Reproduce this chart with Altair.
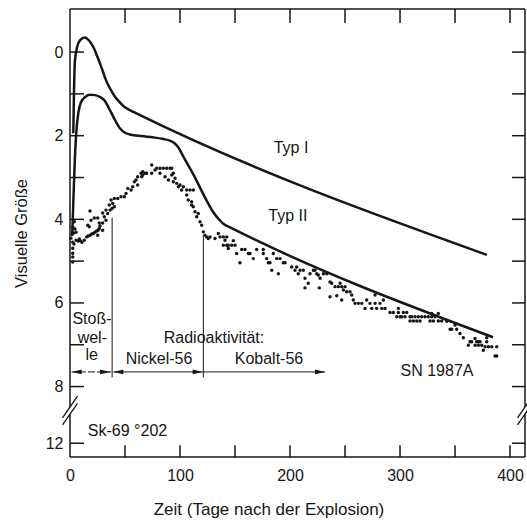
import altair as alt
import pandas as pd

FONT = "Liberation Sans"
INK = "#161616"

X_MAX = 413.6
Y_DOMAIN = [-1.03, 8.68, 11.66, 12.33]
Y_RANGE = [0, 406, 420, 448]

# ---- light curves (days after explosion, visual magnitude) ----
typ1_day = [3.0, 3.6, 4.5, 6.5, 9.0, 13.6, 17.5, 21.2, 25.0, 29.0, 33.3, 37.0, 40.9, 44.5, 48.5, 53.0, 57.6, 379.0]
typ1_mag = [1.94, 1.0, 0.2, -0.12, -0.28, -0.35, -0.27, -0.12, 0.12, 0.4, 0.71, 0.9, 1.07, 1.18, 1.29, 1.37, 1.43, 4.85]

typ2_day = [2.0, 3.0, 4.5, 5.5, 7.6, 10.0, 14.0, 18.0, 22.7, 27.0, 31.8, 35.5, 39.4, 45.5, 50.0, 54.5, 65.0, 75.8, 85.0, 90.9,
            95.0, 98.5, 102.0, 112.0, 124.0, 130.0, 136.0, 140.0, 146.0, 384.5]
typ2_mag = [4.4, 3.6, 2.5, 2.0, 1.45, 1.2, 1.07, 1.02, 1.03, 1.07, 1.17, 1.35, 1.55, 1.83, 1.93, 1.97, 2.01, 2.04, 2.08, 2.12,
            2.18, 2.28, 2.45, 2.92, 3.54, 3.82, 4.02, 4.12, 4.2, 6.82]

# ---- SN 1987A observations ----
obs_day = [2.5, 2.5, 2.5, 2.5, 3.9, 2.7, 4.5, 5.5, 3.2,
           2.5, 5.5, 8.5, 10.9, 13.0, 15.2, 18.2, 21.2, 24.3, 26.6,
           0.9, 3.6, 7.3, 9.5, 16.4, 19.7, 22.7, 25.5,
           16.1, 17.5, 19.1, 18.2, 22.1, 25.2, 26.6, 29.7, 31.2, 29.7, 32.7, 34.3, 32.7, 25.2, 29.7, 27.3,
           35.7, 37.3, 38.8, 40.3, 38.2, 40.3, 36.4,
           43.4, 46.4, 49.4, 50.9, 52.5, 55.5, 57.0, 58.5, 60.0, 61.5, 61.5, 64.5, 66.1, 66.1,
           65.2, 68.2, 69.7, 74.3, 74.3, 77.3, 78.8, 81.8, 84.8, 87.9, 90.9, 92.5, 81.8, 86.4, 89.4, 92.5, 93.9, 95.5,
           93.9, 97.0, 100.0, 98.5, 101.5, 103.0, 106.1, 109.1, 112.1, 106.1, 107.5, 110.6, 110.6, 112.1, 113.6,
           116.6, 115.2, 118.2, 119.7, 121.2, 122.7, 124.3, 127.3, 125.7, 131.8, 134.8, 136.4, 139.4, 140.9, 142.5,
           143.9, 142.5, 139.4, 143.9,
           147.0, 150.0, 148.5, 151.5, 154.5, 156.1, 159.1, 162.1, 163.6, 166.6, 169.7, 175.7, 175.7, 178.8, 180.3,
           181.8, 183.4, 184.8, 187.9, 190.9, 189.4, 193.9, 195.5, 201.5, 204.5, 206.1, 207.5, 209.1, 212.1, 213.6,
           216.6, 218.2, 213.6, 221.2, 222.7, 224.3, 225.7, 227.3, 226.6, 230.3, 233.4, 236.4, 236.4,
           237.9, 240.9, 243.9, 245.5, 247.0, 250.0, 248.5, 251.5, 254.5, 256.1, 242.5, 247.0, 257.5, 259.1, 262.1,
           265.2, 268.2, 269.7, 272.7, 274.3, 277.3, 277.3, 278.8, 281.8, 284.8, 283.4, 286.4, 290.9, 293.9, 298.5,
           298.5, 300.0, 303.0, 306.1, 297.0, 301.5, 304.5, 309.1, 309.1, 312.1, 310.6, 313.6, 316.6, 315.2, 318.2,
           319.7, 322.7, 325.7, 328.8, 327.3, 330.3, 328.8, 331.8, 334.8, 334.8, 337.9, 342.5, 345.5, 347.0, 350.0,
           351.5, 354.5, 357.5, 362.1, 363.6, 365.2, 368.2, 369.7, 371.2, 372.7, 368.2, 371.2, 374.3, 375.7, 378.8,
           377.3, 380.3, 383.4, 387.9, 378.8, 386.4, 387.9]
obs_mag = [4.69, 4.81, 4.90, 5.02, 4.06, 4.19, 4.23, 4.31, 4.33,
           4.55, 4.50, 4.47, 4.55, 4.50, 4.42, 4.38, 4.34, 4.28, 4.22,
           4.45, 4.59, 4.52, 4.52, 4.40, 4.35, 4.31, 4.26,
           4.14, 4.18, 4.02, 3.80, 3.97, 3.97, 4.09, 4.09, 3.94, 3.85, 3.78, 3.86, 4.02, 4.38, 4.26, 4.16,
           3.66, 3.54, 3.62, 3.70, 3.74, 3.50, 3.78,
           3.50, 3.46, 3.46, 3.38, 3.26, 3.30, 3.22, 3.10, 3.06, 3.18, 2.98, 2.90, 2.94, 2.86,
           2.98, 2.90, 2.90, 2.90, 2.70, 2.82, 2.78, 2.78, 2.78, 2.78, 2.78, 2.78, 2.90, 2.98, 3.06, 2.94, 2.90, 3.02,
           3.10, 3.14, 3.18, 3.22, 3.30, 3.22, 3.30, 3.30, 3.30, 3.42, 3.54, 3.58, 3.66, 3.70, 3.82,
           3.86, 3.94, 4.06, 4.14, 4.30, 4.38, 4.42, 4.42, 4.46, 4.46, 4.34, 4.42, 4.42, 4.50, 4.42,
           4.70, 4.62, 4.62, 4.62,
           4.62, 4.62, 4.51, 4.82, 5.04, 4.72, 4.72, 4.82, 4.82, 4.94, 4.72, 4.72, 4.82, 4.94, 5.04,
           5.04, 5.22, 4.82, 4.94, 4.94, 5.30, 5.04, 5.04, 5.14, 5.22, 5.14, 5.30, 5.22, 5.22, 5.41,
           5.53, 5.30, 5.64, 5.22, 5.22, 5.30, 5.33, 5.41, 5.64, 5.30, 5.30, 5.50, 5.85,
           5.53, 5.61, 5.61, 5.53, 5.61, 5.61, 5.69, 5.73, 5.73, 5.81, 5.83, 5.93, 5.93, 6.01, 6.01,
           6.01, 6.13, 5.93, 6.01, 6.13, 5.81, 6.01, 6.13, 6.01, 5.93, 6.13, 6.13, 6.23, 6.23, 6.13,
           6.23, 6.33, 6.23, 6.23, 6.33, 6.33, 6.33, 6.33, 6.43, 6.43, 6.33, 6.33, 6.33, 6.43, 6.43,
           6.33, 6.33, 6.33, 6.33, 6.43, 6.43, 6.25, 6.33, 6.43, 6.25, 6.43, 6.44, 6.63, 6.63, 6.53,
           6.63, 6.73, 6.83, 7.01, 6.93, 6.93, 6.85, 6.93, 6.93, 6.93, 7.01, 7.01, 7.01, 7.13, 6.93,
           7.05, 7.05, 7.05, 7.05, 6.83, 7.27, 7.27]

# ---- axis ticks ----
x_label_values = [0, 100, 200, 300, 400]
x_tick_values = [50, 100, 150, 200, 250, 300, 350, 400]
y_label_values = [0, 2, 4, 6, 8, 12]
y_tick_values = [0, 1, 2, 3, 4, 5, 6, 7, 8, 12]

# ---- annotations ----
label_text = ["Typ I", "Typ II", "SN 1987A", "Sk-69 °202", "Stoß-", "wel-", "le",
              "Radioaktivität:", "Nickel-56", "Kobalt-56"]
label_day = [200.9, 198.0, 333.6, 52.3, 20.0, 20.3, 19.7, 130.9, 80.9, 180.9]
label_mag = [2.30, 3.92, 7.63, 11.71, 6.39, 6.85, 7.25, 6.84, 7.34, 7.34]

# phase arrows (all at one magnitude level)
arrow_mag = 7.65
arrow_from = [1.5, 16.4, 24.5, 39.4, 120.6]
arrow_to = [14.5, 22.7, 37.5, 120.6, 231.8]
head_left_day = [1.5, 39.4]
head_right_day = [36.4, 120.6, 231.8]
sep_day = [38.3, 121.2]
sep_top = [3.96, 4.38]
sep_bottom = [7.78, 7.78]

# ---------------- build tables ----------------
curves = pd.DataFrame({
    "x": typ1_day + typ2_day,
    "y": typ1_mag + typ2_mag,
    "series": ["Typ I"] * len(typ1_day) + ["Typ II"] * len(typ2_day),
})
obs = pd.DataFrame({"x": obs_day, "y": obs_mag})

Y_TOP, Y_BOT = Y_DOMAIN[0], Y_DOMAIN[-1]
GAP_A, GAP_B = 8.49, 8.66
frame = pd.DataFrame({
    "x": [0, 0, 0, X_MAX, X_MAX, 0],
    "x2": [X_MAX, 0, 0, X_MAX, X_MAX, X_MAX],
    "y": [Y_TOP, Y_TOP, GAP_B, Y_TOP, GAP_B, Y_BOT],
    "y2": [Y_TOP, GAP_A, Y_BOT, GAP_A, Y_BOT, Y_BOT],
})

tick_rows = []
for v in y_tick_values:
    tick_rows.append((0, 12.7, v, v))
    tick_rows.append((X_MAX - 11.8, X_MAX, v, v))
for d in x_tick_values:
    tick_rows.append((d, d, Y_TOP, -0.695))
    tick_rows.append((d, d, 12.05, Y_BOT))
ticks = pd.DataFrame(tick_rows, columns=["x", "x2", "y", "y2"])

slash_rows = []
for base in (0.0, X_MAX):
    slash_rows.append((base - 6.8, base + 6.8, 9.28, 8.23))
    slash_rows.append((base - 6.8, base + 6.8, 10.77, 8.40))
slashes = pd.DataFrame(slash_rows, columns=["x", "x2", "y", "y2"])

arrows = pd.DataFrame({"x": arrow_from, "x2": arrow_to,
                       "y": [arrow_mag] * len(arrow_from), "y2": [arrow_mag] * len(arrow_from)})
seps = pd.DataFrame({"x": sep_day, "x2": sep_day, "y": sep_top, "y2": sep_bottom})
heads_l = pd.DataFrame({"x": head_left_day, "y": [arrow_mag] * len(head_left_day)})
heads_r = pd.DataFrame({"x": head_right_day, "y": [arrow_mag] * len(head_right_day)})
labels = pd.DataFrame({"x": label_day, "y": label_mag, "text": label_text})

# ---------------- scales & axes ----------------
xs = alt.Scale(domain=[0, X_MAX], nice=False, zero=False)
ys = alt.Scale(domain=Y_DOMAIN, range=Y_RANGE, nice=False, zero=False)

x_axis = alt.Axis(values=x_label_values, ticks=False, domain=False, grid=False,
                  labelFont=FONT, labelFontSize=16, labelColor=INK, labelPadding=10, labelFlush=False,
                  title="Zeit (Tage nach der Explosion)", titleFont=FONT, titleFontSize=17,
                  titleFontWeight="normal", titleColor=INK, titleX=198.5, titleY=57,
                  titleAlign="center", titleBaseline="alphabetic")
y_axis = alt.Axis(values=y_label_values, ticks=False, domain=False, grid=False,
                  labelFont=FONT, labelFontSize=16, labelColor=INK, labelPadding=7,
                  title="Visuelle Größe", titleFont=FONT, titleFontSize=16.5, titleFontWeight="normal",
                  titleColor=INK, titleAngle=270, titleX=-49, titleY=224, titleAlign="center",
                  titleBaseline="middle")

X_ENC = alt.X("x:Q", scale=xs, axis=x_axis)
Y_ENC = alt.Y("y:Q", scale=ys, axis=y_axis)


def rules(df, width):
    return alt.Chart(df).mark_rule(color=INK, strokeWidth=width).encode(
        x=X_ENC, x2="x2:Q", y=Y_ENC, y2="y2:Q",
    )


frame_layer = rules(frame, 1.5)
tick_layer = rules(ticks, 1.5)
slash_layer = rules(slashes, 1.3)
arrow_layer = rules(arrows, 1.0)
sep_layer = rules(seps, 1.0)

curve_layer = alt.Chart(curves).mark_line(color=INK, strokeWidth=2.5, interpolate="monotone").encode(
    x=X_ENC, y=Y_ENC, detail="series:N",
)

obs_layer = alt.Chart(obs).mark_circle(color=INK, size=12, opacity=1).encode(x=X_ENC, y=Y_ENC)

head_l_layer = alt.Chart(heads_l).mark_point(
    shape="M 0 0 L 2.5 -0.6 L 2.5 0.6 Z", filled=True, size=64, color=INK, opacity=1, strokeWidth=0
).encode(x=X_ENC, y=Y_ENC)
head_r_layer = alt.Chart(heads_r).mark_point(
    shape="M 0 0 L -2.5 -0.6 L -2.5 0.6 Z", filled=True, size=64, color=INK, opacity=1, strokeWidth=0
).encode(x=X_ENC, y=Y_ENC)

text_layer = alt.Chart(labels).mark_text(font=FONT, fontSize=16, color=INK, align="center",
                                         baseline="middle").encode(x=X_ENC, y=Y_ENC, text="text:N")

chart = alt.layer(
    frame_layer, tick_layer, slash_layer, sep_layer, arrow_layer,
    curve_layer, obs_layer, head_l_layer, head_r_layer, text_layer,
).properties(
    width=455, height=448,
    padding={"left": 70, "top": 9, "right": 2, "bottom": 64},
    autosize=alt.AutoSizeParams(type="none"),
    background="white",
).configure_view(stroke=None)

chart.save("out.html", embed_options={"renderer": "svg", "actions": False})
